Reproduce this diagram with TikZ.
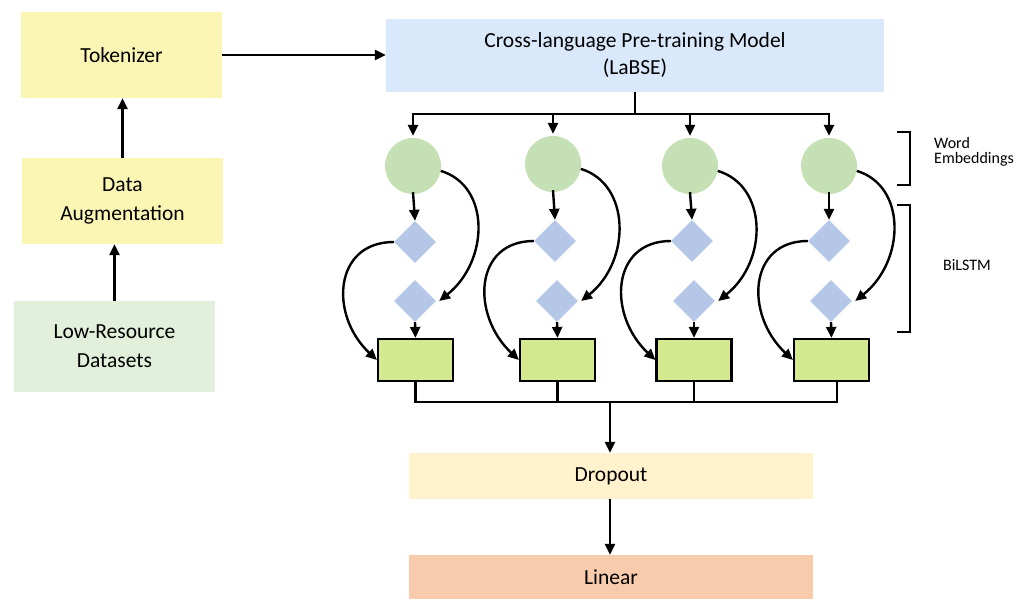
\documentclass[tikz,border=0pt]{standalone}
\usepackage{fontspec}
\setmainfont{Carlito}
\usetikzlibrary{arrows.meta,shapes.geometric,calc}
\definecolor{tokyel}{HTML}{FBF6B3}
\definecolor{lrgreen}{HTML}{E2EFDA}
\definecolor{labseblue}{HTML}{DAE8FC}
\definecolor{circgreen}{HTML}{C5E0B4}
\definecolor{diamblue}{HTML}{B4C7E7}
\definecolor{rectgreen}{HTML}{D4E88F}
\definecolor{dropyel}{HTML}{FFF2CC}
\definecolor{linorange}{HTML}{F8CBAD}
\tikzset{
  x=1pt, y=-1pt,
  bigtext/.style={font=\fontsize{21.5}{29}\selectfont, align=center},
  blockbox/.style={bigtext, draw=none, inner sep=0pt},
  embcirc/.style={circle, fill=circgreen, draw=none, minimum size=56pt, inner sep=0pt},
  lstmdiam/.style={diamond, fill=diamblue, draw=none, minimum size=42pt, inner sep=0pt},
  outrect/.style={rectangle, fill=rectgreen, draw=black, line width=2.2pt, minimum width=75pt, minimum height=42pt, inner sep=0pt},
  conn/.style={line width=2.4pt, -{Triangle[length=11pt,width=10pt]}},
  plainline/.style={line width=2.4pt},
  smalltext/.style={font=\fontsize{16}{15}\selectfont, align=left, inner sep=0pt},
}
\begin{document}
\begin{tikzpicture}
\useasboundingbox (0,0) rectangle (1032,599);
% left column
\node[blockbox, fill=tokyel, minimum width=201pt, minimum height=86pt] (tok) at (121.5,55) {Tokenizer};
\node[blockbox, fill=tokyel, minimum width=201pt, minimum height=86pt] (aug) at (122.5,201) {Data\\Augmentation};
\node[blockbox, fill=lrgreen, minimum width=201pt, minimum height=91pt] (lr) at (114.5,346.5) {Low-Resource\\Datasets};
% LaBSE
\node[blockbox, fill=labseblue, minimum width=498pt, minimum height=73pt, font=\fontsize{21.5}{27}\selectfont] (labse) at (635,55.5) {Cross-language Pre-training Model\\(LaBSE)};
% output boxes
\node[blockbox, fill=dropyel, minimum width=404pt, minimum height=46pt] (drop) at (611,476) {Dropout};
\node[blockbox, fill=linorange, minimum width=404pt, minimum height=44pt] (lin) at (611,577) {Linear};
% columns
\node[embcirc] (c1) at (413,166) {};
\node[embcirc] (c2) at (553,164) {};
\node[embcirc] (c3) at (690,166) {};
\node[embcirc] (c4) at (829,166) {};
\node[lstmdiam] (da1) at (415,242) {};
\node[lstmdiam] (da2) at (555,241) {};
\node[lstmdiam] (da3) at (692,241) {};
\node[lstmdiam] (da4) at (829,241) {};
\node[lstmdiam] (db1) at (415,301) {};
\node[lstmdiam] (db2) at (557,301) {};
\node[lstmdiam] (db3) at (694,301) {};
\node[lstmdiam] (db4) at (831,301) {};
\node[outrect] (r1) at (415.5,360) {};
\node[outrect] (r2) at (557.5,360) {};
\node[outrect] (r3) at (694,360) {};
\node[outrect] (r4) at (831.5,360) {};
% bus coordinates
\coordinate (topbus) at (635,114);
\coordinate (botbus) at (610,402);
% left arrows
\draw[conn] (lr.north) -- (lr.north |- aug.south);
\draw[conn] (aug.north) -- (aug.north |- tok.south);
\draw[conn] (tok.east) -- (tok.east -| labse.west);
% top bus
\draw[plainline] (labse.south -| topbus) -- (topbus);
\draw[plainline] ([xshift=-1.2pt]c1.north |- topbus) -- ([xshift=1.2pt]c4.north |- topbus);
\foreach \i in {1,2,3,4}{
  \draw[conn] (c\i.north |- topbus) -- ([yshift=2pt]c\i.north);
  \draw[conn] ([yshift=2pt]c\i.south) -- (da\i.north);
  \draw[conn] (db\i.south) -- (r\i.north);
  \draw[conn] (c\i.-10) .. controls +(50,15) and +(50,-40) .. ([xshift=3pt]db\i.east);
  \draw[conn] (da\i.west) .. controls +(-60,0) and +(-48,-45) .. (r\i.west);
}
% bottom bus
\draw[plainline] (r1.south) -- (r1.south |- botbus);
\draw[plainline] (r2.south) -- (r2.south |- botbus);
\draw[plainline] (r3.south) -- (r3.south |- botbus);
\coordinate (r4drop) at (837,381);
\draw[plainline] (r4drop) -- (r4drop |- botbus);
\draw[plainline] ([xshift=-1.2pt]r1.south |- botbus) -- ([xshift=1.2pt]r4drop |- botbus);
\draw[conn] (botbus) -- (botbus |- drop.north);
\draw[conn] (drop.south -| botbus) -- (botbus |- lin.north);
% brackets
\draw[line width=2pt] (897,132) -- (910,132) -- (910,185) -- (897,185);
\draw[line width=2pt] (897,205) -- (910,205) -- (910,332) -- (897,332);
\node[smalltext, anchor=north west] (we) at (934,137) {Word\\Embeddings};
\node[smalltext, anchor=center] (bl) at (967,265) {BiLSTM};
\end{tikzpicture}
\end{document}
